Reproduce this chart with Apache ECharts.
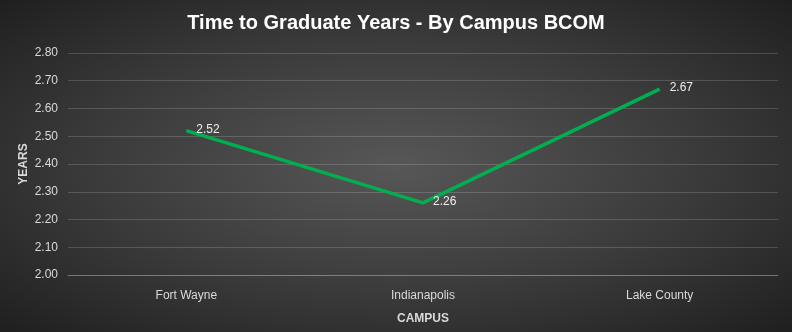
<!DOCTYPE html>
<html>
<head>
<meta charset="utf-8">
<script src="https://cdn.jsdelivr.net/npm/echarts@6/dist/echarts.min.js"></script>
<style>
  html, body { margin: 0; padding: 0; background: #1f1f1f; }
  #chart {
    width: 792px; height: 332px;
    background: radial-gradient(ellipse farthest-corner at 50% 50%, #575757 0%, #3a3a3a 55%, #1f1f1f 100%);
  }
</style>
</head>
<body>
<div id="chart"></div>
<script>
// Campuses along the x axis and the average years to graduate at each
const campuses = ['Fort Wayne', 'Indianapolis', 'Lake County'];
const years = [2.52, 2.26, 2.67];

const FONT = '"Liberation Sans", Arial, Helvetica, sans-serif';

const chart = echarts.init(document.getElementById('chart'));
chart.setOption({
  backgroundColor: 'transparent',
  title: {
    text: 'Time to Graduate Years - By Campus BCOM',
    left: 'center', top: 8,
    textStyle: { color: '#ffffff', fontFamily: FONT, fontWeight: 'bold', fontSize: 20 }
  },
  grid: { left: 68, right: 14, top: 53, bottom: 57, containLabel: false, outerBoundsMode: 'none' },
  xAxis: {
    type: 'category',
    data: campuses,
    boundaryGap: true,
    name: 'CAMPUS',
    nameLocation: 'middle',
    nameGap: 38,
    nameMoveOverlap: false,
    nameTextStyle: { color: '#d9d9d9', fontFamily: FONT, fontWeight: 'bold', fontSize: 12 },
    axisLine: { lineStyle: { color: 'rgba(255,255,255,0.22)' } },
    axisTick: { show: false },
    axisLabel: { color: '#d9d9d9', fontFamily: FONT, fontSize: 12, margin: 15 }
  },
  yAxis: {
    type: 'value',
    min: 2.0, max: 2.8, interval: 0.1,
    name: 'YEARS',
    nameLocation: 'middle',
    nameRotate: 90,
    nameGap: 38,
    nameMoveOverlap: false,
    nameTextStyle: { color: '#d9d9d9', fontFamily: FONT, fontWeight: 'bold', fontSize: 12 },
    axisLine: { show: false },
    axisTick: { show: false },
    axisLabel: {
      color: '#d9d9d9', fontFamily: FONT, fontSize: 12, margin: 10,
      formatter: v => v.toFixed(2)
    },
    splitLine: { lineStyle: { color: 'rgba(255,255,255,0.16)', width: 1 } }
  },
  series: [{
    type: 'line',
    data: years,
    symbol: 'circle',
    symbolSize: 2,
    showSymbol: true,
    itemStyle: { color: 'rgba(0,0,0,0)', borderWidth: 0 },
    lineStyle: { color: '#00b050', width: 3.5 },
    label: {
      show: true,
      position: 'right',
      distance: 9,
      offset: [0, -1],
      color: '#eeeeee',
      fontFamily: FONT,
      fontSize: 12,
      formatter: p => p.value.toFixed(2)
    },
    animation: false
  }]
});
</script>
</body>
</html>
